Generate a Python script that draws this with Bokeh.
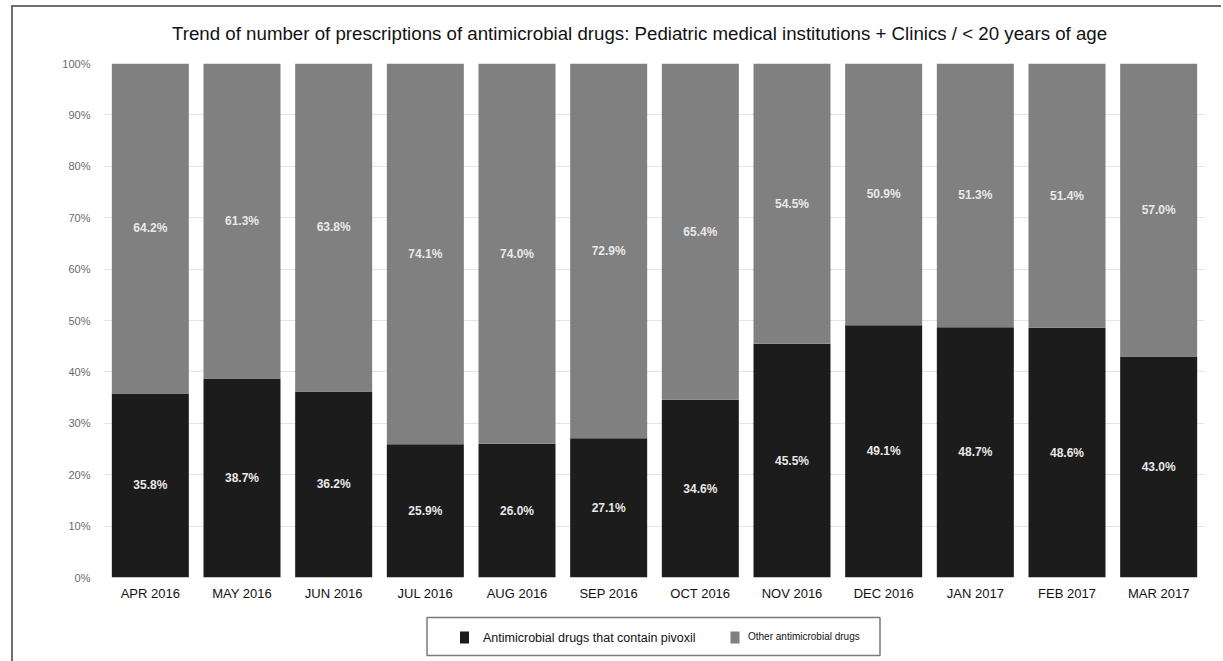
from bokeh.plotting import figure
from bokeh.layouts import column
from bokeh.models import (ColumnDataSource, FactorRange, FixedTicker, NumeralTickFormatter,
                          LabelSet, Range1d)
from bokeh.core.properties import value
from bokeh.embed import file_html
from bokeh.resources import INLINE

months = ["APR 2016", "MAY 2016", "JUN 2016", "JUL 2016", "AUG 2016", "SEP 2016",
          "OCT 2016", "NOV 2016", "DEC 2016", "JAN 2017", "FEB 2017", "MAR 2017"]
pivoxil = [35.8, 38.7, 36.2, 25.9, 26.0, 27.1, 34.6, 45.5, 49.1, 48.7, 48.6, 43.0]
other = [64.2, 61.3, 63.8, 74.1, 74.0, 72.9, 65.4, 54.5, 50.9, 51.3, 51.4, 57.0]
series_names = ["Antimicrobial drugs that contain pivoxil", "Other antimicrobial drugs"]
title_text = "Trend of number of prescriptions of antimicrobial drugs: Pediatric medical institutions + Clinics / < 20 years of age"
y_ticks = [0, 0.1, 0.2, 0.3, 0.4, 0.5, 0.6, 0.7, 0.8, 0.9, 1.0]

FONT = "Liberation Sans"
DARK = "#1c1c1c"
GRAY = "#808080"
COLORS = [DARK, GRAY]

src = ColumnDataSource(dict(
    month=months,
    piv=[v / 100 for v in pivoxil],
    oth=[v / 100 for v in other],
    piv_mid=[v / 200 for v in pivoxil],
    oth_mid=[p / 100 + o / 200 for p, o in zip(pivoxil, other)],
    piv_lbl=[f"{v:.1f}%" for v in pivoxil],
    oth_lbl=[f"{v:.1f}%" for v in other],
))

W = 1208
FRAME_X = Range1d(104.5, 1204.5)   # strips share the chart frame; x in page pixels


def strip(h):
    f = figure(width=W, height=h, x_range=FRAME_X, y_range=Range1d(h, 0),
               output_backend="svg", toolbar_location=None,
               min_border_left=0, min_border_right=0, min_border_top=0, min_border_bottom=0)
    f.axis.visible = False
    f.grid.visible = False
    f.outline_line_color = None
    return f


# title strip
tt = strip(50)
tt.text(x=[172], y=[26], text=[title_text], text_font=value(FONT),
        text_font_size="18.7px", text_color="#111111", text_baseline="middle")

# main chart
p = figure(x_range=FactorRange(*months, range_padding=0), y_range=(0, 1),
           width=W, height=550, output_backend="svg", toolbar_location=None,
           min_border_left=91, min_border_right=17, min_border_top=6, min_border_bottom=30)
p.outline_line_color = None

p.vbar_stack(["piv", "oth"], x="month", width=0.84, source=src,
             color=COLORS, line_color=None)

for col_y, col_t in (("piv_mid", "piv_lbl"), ("oth_mid", "oth_lbl")):
    p.add_layout(LabelSet(x="month", y=col_y, text=col_t, source=src,
                          text_color="#e8e8e8", text_font=value(FONT), text_font_size="12px",
                          text_font_style="bold", text_align="center", text_baseline="middle"))

p.yaxis.ticker = FixedTicker(ticks=y_ticks)
p.yaxis.formatter = NumeralTickFormatter(format="0%")
p.yaxis.axis_line_color = None
p.yaxis.major_tick_line_color = None
p.yaxis.minor_tick_line_color = None
p.yaxis.major_label_standoff = 8
p.yaxis.major_label_text_font = FONT
p.yaxis.major_label_text_font_size = "11px"
p.yaxis.major_label_text_color = "#6a6a6a"

p.xaxis.axis_line_color = None
p.xaxis.major_tick_line_color = None
p.xaxis.major_label_standoff = 2
p.xaxis.major_label_text_font = FONT
p.xaxis.major_label_text_font_size = "13px"
p.xaxis.major_label_text_color = "#111111"

p.xgrid.grid_line_color = None
p.ygrid.grid_line_color = "#e4e4e4"

# legend strip
lg = strip(54)
lg.quad(left=[427], right=[880], top=[10], bottom=[48], fill_color="white",
        line_color="#7a7a7a", line_width=1.5)
lg.rect(x=[464.5, 735], y=[30, 30], width=9, height=12, fill_color=COLORS, line_color=None)
lg.text(x=[483], y=[30], text=[series_names[0]], text_font=value(FONT),
        text_font_size="12.5px", text_color="#111111", text_baseline="middle")
lg.text(x=[748], y=[29], text=[series_names[1]], text_font=value(FONT),
        text_font_size="10px", text_color="#111111", text_baseline="middle")

layout = column(tt, p, lg, spacing=0, margin=(5, 0, 0, 11),
                styles={"border-left": "2px solid #6e6e6e", "border-top": "2px solid #6e6e6e"})

open("out.html", "w").write(file_html(layout, INLINE))
